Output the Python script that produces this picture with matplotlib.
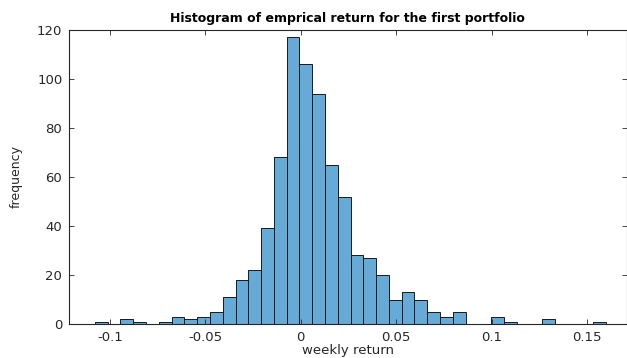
import matplotlib.pyplot as plt
import numpy as np

# histogram counts, one per bin (left to right)
counts = [1, 0, 2, 1, 0, 1, 3, 2, 3, 5, 11, 18, 22, 39, 68,
          117, 106, 94, 65, 52, 28, 27, 20, 10, 13, 10, 5, 3, 5,
          0, 0, 3, 1, 0, 0, 2, 0, 0, 0, 1]
bin_start = -0.1079
bin_width = 0.0067
xticks = [-0.1, -0.05, 0, 0.05, 0.1, 0.15]
xticklabels = ["-0.1", "-0.05", "0", "0.05", "0.1", "0.15"]
yticks = [0, 20, 40, 60, 80, 100, 120]

edges = bin_start + bin_width * np.arange(len(counts) + 1)

plt.rcParams['font.family'] = 'DejaVu Sans'

fig = plt.figure(figsize=(6.27, 3.58), dpi=100)
ax = fig.add_axes([69.3 / 627, 34 / 358, (626.5 - 69.3) / 627, 294 / 358])

ax.stairs(counts, edges, fill=True, color='#0072BD', alpha=0.6)
ax.bar(edges[:-1], counts, width=bin_width, align='edge',
       facecolor='none', edgecolor='#1a1a1a', linewidth=0.7)

ax.set_xlim(-0.1213, 0.1707)
ax.set_ylim(0, 120)
ax.set_xticks(xticks)
ax.set_xticklabels(xticklabels)
ax.set_yticks(yticks)
ax.tick_params(direction='in', top=True, right=True, length=3.5, width=0.6,
               labelsize=9.5, colors='#262626', pad=5)
for s in ax.spines.values():
    s.set_linewidth(0.8)
    s.set_color('#262626')

ax.set_title("Histogram of emprical return for the first portfolio",
             fontsize=9, fontweight='bold', pad=6)
ax.set_xlabel("weekly return", fontsize=9.5, color='#262626', labelpad=0)
ax.set_ylabel("frequency", fontsize=9, color='#262626', labelpad=10)

fig.savefig("out.png", dpi=100)
